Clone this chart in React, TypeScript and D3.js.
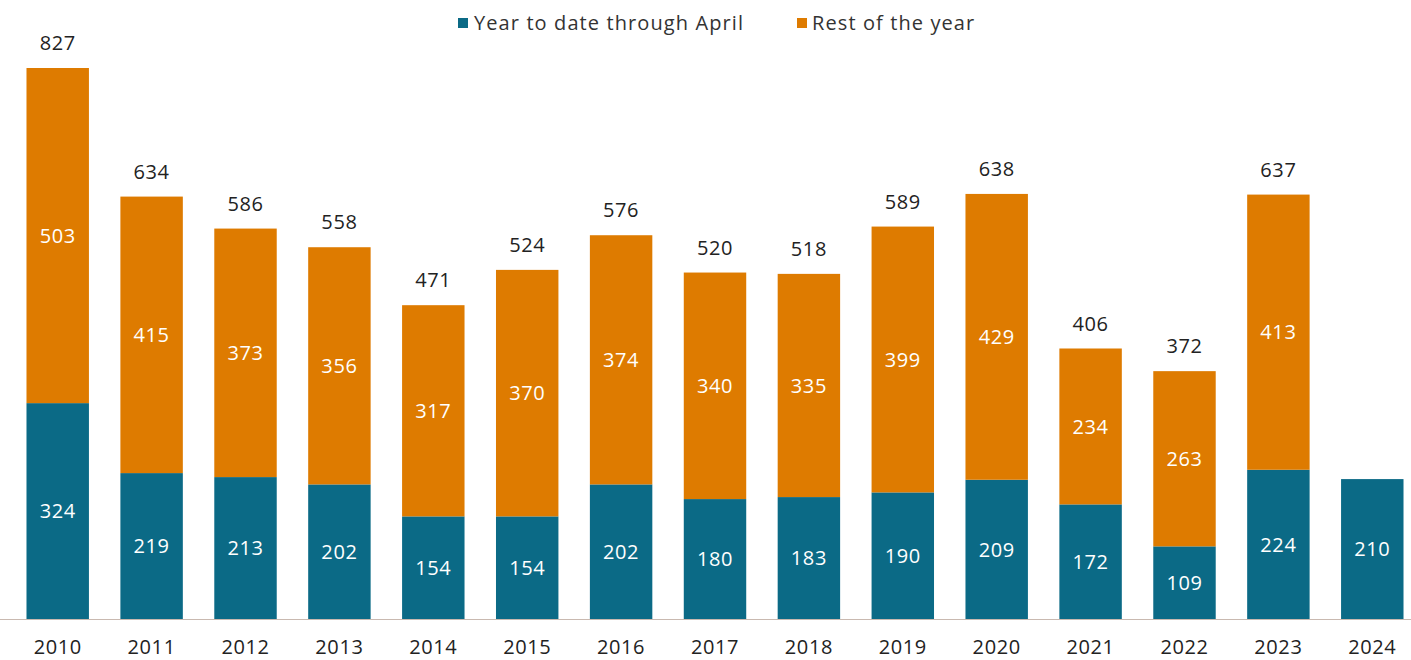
import React from "react";
import * as d3 from "d3";

const years = ["2010","2011","2012","2013","2014","2015","2016","2017","2018","2019","2020","2021","2022","2023","2024"];
const ytdApril = [324,219,213,202,154,154,202,180,183,190,209,172,109,224,210];
const restOfYear = [503,415,373,356,317,370,374,340,335,399,429,234,263,413,0];
const totals = [827,634,586,558,471,524,576,520,518,589,638,406,372,637,null];
const seriesNames = ["Year to date through April", "Rest of the year"];

const W = 1411, H = 660;
const TEAL = "#0B6A86";
const ORANGE = "#DE7B00";
const FONT = "'Open Sans', sans-serif";

export default function App() {
  const x = d3.scaleBand().domain(years).range([11, 1419]).paddingInner(0.335).paddingOuter(0.165);
  const y = d3.scaleLinear().domain([0, 827]).range([619, 68]);
  const bw = x.bandwidth();

  return (
    <svg width={W} height={H} style={{ position: "absolute", left: 0, top: 0, background: "#fff" }} fontFamily={FONT}>
      {/* legend */}
      <rect x={458} y={18} width={10} height={10} fill={TEAL} />
      <text x={474} y={30} fontSize={20} letterSpacing={1.1} fill="#333">{seriesNames[0]}</text>
      <rect x={797} y={18} width={10} height={10} fill={ORANGE} />
      <text x={812} y={30} fontSize={20} letterSpacing={1.1} fill="#333">{seriesNames[1]}</text>

      {years.map((yr, i) => {
        const x0 = x(yr)!;
        const cx = x0 + bw / 2;
        const a = ytdApril[i];
        const b = restOfYear[i];
        const t = totals[i];
        return (
          <g key={yr}>
            <rect x={x0} y={y(a)} width={bw} height={y(0) - y(a)} fill={TEAL} />
            {b > 0 && <rect x={x0} y={y(a + b)} width={bw} height={y(a) - y(a + b)} fill={ORANGE} />}
            <text x={cx} y={(y(0) + y(a)) / 2} dy="0.36em" textAnchor="middle" fontSize={20} letterSpacing={0.6} fill="#fff">{a}</text>
            {b > 0 && <text x={cx} y={(y(a) + y(a + b)) / 2} dy="0.36em" textAnchor="middle" fontSize={20} letterSpacing={0.6} fill="#fff">{b}</text>}
            {t !== null && <text x={cx} y={y(a + b) - 25} dy="0.36em" textAnchor="middle" fontSize={20} letterSpacing={0.6} fill="#222">{t}</text>}
            <text x={cx} y={647} dy="0.36em" textAnchor="middle" fontSize={20} letterSpacing={0.6} fill="#222">{yr}</text>
          </g>
        );
      })}
      <line x1={0} x2={W} y1={y(0) + 0.5} y2={y(0) + 0.5} stroke="#C9B9B0" strokeWidth={1} />
    </svg>
  );
}
